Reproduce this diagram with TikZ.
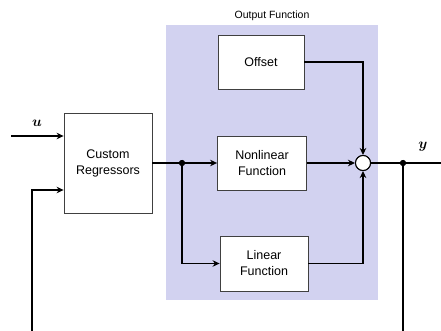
\documentclass[tikz,border=0pt]{standalone}
\usepackage{fontspec}
\setmainfont{Liberation Sans}
\usepackage{amsmath}
\usepackage{bm}
\usetikzlibrary{arrows.meta}
\definecolor{ofcolor}{RGB}{210,210,240}
\begin{document}
\begin{tikzpicture}[x=1pt,y=-1pt,
  blk/.style={draw=black!75, line width=0.8pt, fill=white, inner sep=0pt, align=center,
    font=\fontsize{12.5}{16}\selectfont},
  wire/.style={line width=1.8pt},
  arr/.style={wire, -{Stealth[length=7pt,width=6.5pt]}},
  dotn/.style={circle, fill=black, inner sep=0pt, minimum size=6pt},
  sumn/.style={circle, draw=black, line width=1pt, fill=white, inner sep=0pt, minimum size=15pt},
  lbl/.style={inner sep=0pt, font=\fontsize{15}{17}\selectfont}]
\useasboundingbox (0,0) rectangle (441,331);
\fill[ofcolor] (166,25) rectangle (378,300);
\node[inner sep=0pt, font=\fontsize{10.5}{12}\selectfont] (title) at (272,16) {Output Function};
\node[blk, minimum width=88pt, minimum height=100pt] (cr) at (108,163) {Custom\\Regressors};
\node[blk, minimum width=86pt, minimum height=54pt] (off) at (261,62) {Offset};
\node[blk, minimum width=89pt, minimum height=54pt] (nl) at (262,163) {Nonlinear\\Function};
\node[blk, minimum width=88pt, minimum height=55pt] (lin) at (264,263.5) {Linear\\Function};
\node[sumn] (sum) at (363,163) {};
\node[dotn] (j1) at (182,163) {};
\node[dotn] (j2) at (403,163) {};
\coordinate (uin) at (11,136);
\coordinate (fbl) at (32,331);
\coordinate (fbtop) at (32,190);
\coordinate (yout) at (441,163);
\coordinate (fbr) at (403,331);
\node[lbl] (ulab) at (37,123) {$\bm{u}$};
\node[lbl] (ylab) at (423,147) {$\bm{y}$};
% connectors
\draw[arr] (uin) -- (uin -| cr.west);
\draw[arr] (fbl) -- (fbtop) -- (fbtop -| cr.west);
\draw[wire] (cr.east) -- (j1.center);
\draw[arr] (j1.center) -- (nl.west);
\draw[arr] (j1.center) |- (lin.west);
\draw[arr] (off.east) -| (sum.north);
\draw[arr] (nl.east) -- (sum.west);
\draw[arr] (lin.east) -| (sum.south);
\draw[wire] (sum.east) -- (yout);
\draw[wire] (j2.center) -- (fbr);
\node[dotn] at (j1) {};
\node[dotn] at (j2) {};
\node[sumn] at (sum) {};
\end{tikzpicture}
\end{document}
